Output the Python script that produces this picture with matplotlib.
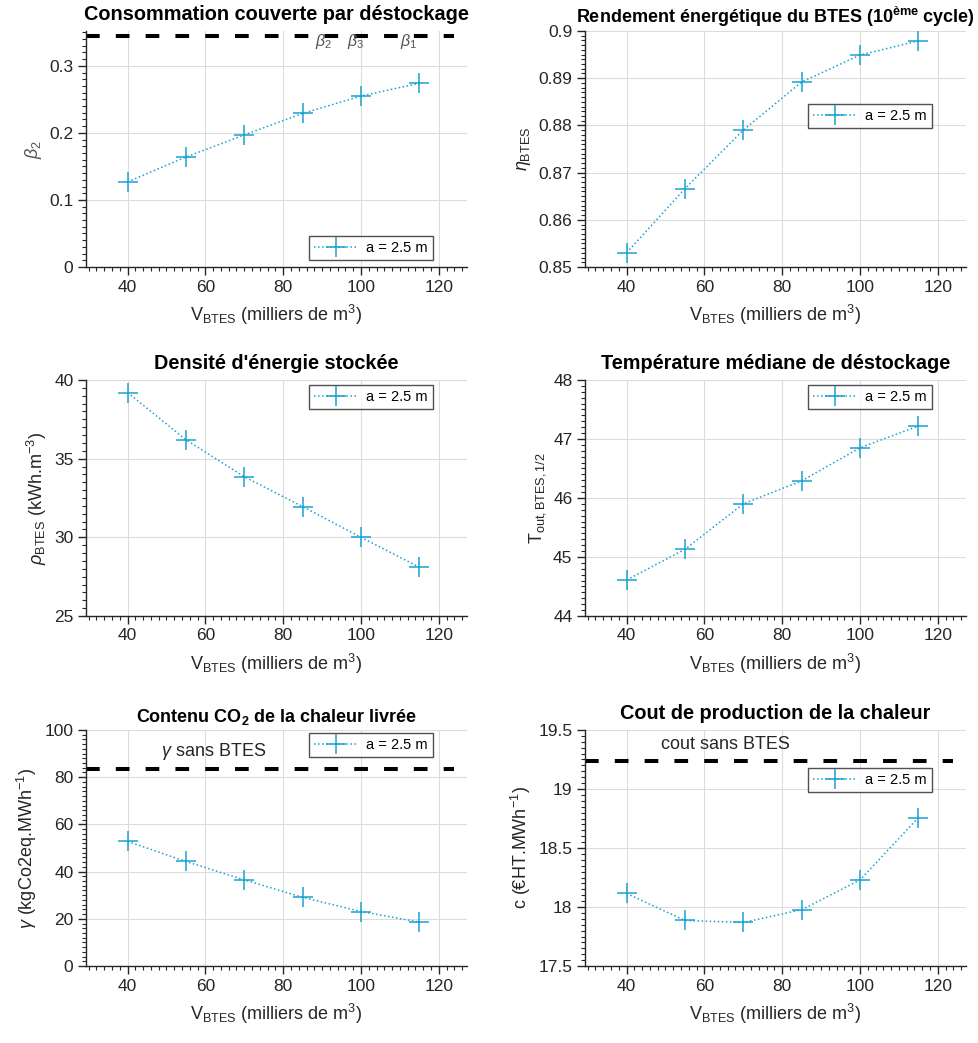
import matplotlib
matplotlib.use("Agg")
import matplotlib.pyplot as plt
from matplotlib.ticker import MultipleLocator, FuncFormatter

# Data
v_btes = [40, 55, 70, 85, 100, 115]
beta2 = [0.127, 0.164, 0.197, 0.229, 0.255, 0.274]
eta_btes = [0.8530, 0.8666, 0.8790, 0.8892, 0.8949, 0.8979]
rho_btes = [39.2, 36.2, 33.85, 31.95, 30.0, 28.1]
t_out = [44.61, 45.13, 45.90, 46.29, 46.85, 47.22]
gamma_co2 = [52.8, 44.3, 36.5, 29.1, 23.1, 18.6]
cout = [18.115, 17.886, 17.869, 17.977, 18.229, 18.757]

beta_ref = 0.345
gamma_sans_btes = 83.3
cout_sans_btes = 19.234
legend_label = "a = 2.5 m"

# Style close to MATLAB defaults
plt.rcParams['font.family'] = ['Liberation Sans', 'DejaVu Sans']
plt.rcParams['mathtext.fontset'] = 'custom'
plt.rcParams['mathtext.rm'] = 'Liberation Sans'
plt.rcParams['mathtext.it'] = 'Liberation Sans:italic'
plt.rcParams['mathtext.bf'] = 'Liberation Sans:bold'

line_color = '#1ba1d2'
axis_color = '#262626'
x_range = (29.3, 127.2)
ref_line_end = 124.0

fig = plt.figure(figsize=(9.79, 10.43), dpi=100)

col_left = [0.0878, 0.5975]
width = 0.389
rows_bottom = [0.744, 0.4094, 0.0738]
height = 0.2263


def style_axes(ax, ylim, ymajor, yminor):
    ax.set_xlim(*x_range)
    ax.set_ylim(*ylim)
    ax.xaxis.set_major_locator(MultipleLocator(20))
    ax.xaxis.set_minor_locator(MultipleLocator(2))
    ax.yaxis.set_major_locator(MultipleLocator(ymajor))
    ax.yaxis.set_minor_locator(MultipleLocator(yminor))
    ax.yaxis.set_major_formatter(FuncFormatter(lambda v, p: f"{round(v, 6):g}"))
    for side in ['top', 'right']:
        ax.spines[side].set_visible(False)
    for side in ['left', 'bottom']:
        ax.spines[side].set_color(axis_color)
        ax.spines[side].set_linewidth(1.0)
    ax.tick_params(which='major', direction='out', length=5.5, width=1.0,
                   colors=axis_color, labelsize=12.5)
    ax.tick_params(which='minor', direction='out', length=3, width=0.8,
                   colors=axis_color)
    ax.grid(True, which='major', color='#dcdcdc', linewidth=0.8)
    ax.set_axisbelow(True)
    ax.set_xlabel(r"V$_{\rm BTES}$ (milliers de m$^3$)", fontsize=13,
                  color=axis_color, labelpad=6)


def plot_series(ax, y):
    ax.plot(v_btes, y, linestyle=':', linewidth=1.1, color=line_color,
            marker='+', markersize=15, markeredgewidth=1.1, label=legend_label)


def add_legend(ax, loc, anchor):
    leg = ax.legend(loc=loc, bbox_to_anchor=anchor, fontsize=10.5,
                    frameon=True, fancybox=False, borderpad=0.35,
                    borderaxespad=0, handlelength=3.0, handletextpad=0.6)
    leg.get_frame().set_edgecolor(axis_color)
    leg.get_frame().set_linewidth(1.0)
    return leg


def add_dashed(ax, yval):
    ax.hlines(yval, x_range[0], ref_line_end, color='black',
              linestyle=(0, (3.4, 4)), linewidth=2.9)


title_kw = dict(fontsize=14.3, fontweight='bold', pad=8)

# 1 - Consommation couverte par déstockage
ax1 = fig.add_axes([col_left[0], rows_bottom[0], width, height])
plot_series(ax1, beta2)
add_dashed(ax1, beta_ref)
style_axes(ax1, (0, 0.352), 0.1, 0.01)
ax1.set_ylabel(r"$\it{\beta}_2$", fontsize=13, color='#555555')
ax1.set_title("Consommation couverte par déstockage", **title_kw)
for lab, xpos in [(r"$\it{\beta}_2$", 90.5), (r"$\it{\beta}_3$", 98.5),
                  (r"$\it{\beta}_1$", 112.3)]:
    ax1.text(xpos, 0.3505, lab, fontsize=11.5, color='#555555', ha='center',
             va='top', clip_on=False)
add_legend(ax1, 'lower right', (0.911, 0.03))

# 2 - Rendement énergétique
ax2 = fig.add_axes([col_left[1], rows_bottom[0], width, height])
plot_series(ax2, eta_btes)
style_axes(ax2, (0.85, 0.9), 0.01, 0.001)
ax2.set_ylabel(r"$\it{\eta}_{\rm BTES}$", fontsize=13, color=axis_color)
ax2.set_title(r"Rendement énergétique du BTES (10$^{\bf ème}$ cycle)",
              fontsize=13, fontweight='bold', pad=6)
add_legend(ax2, 'upper right', (0.911, 0.69))

# 3 - Densité d'énergie stockée
ax3 = fig.add_axes([col_left[0], rows_bottom[1], width, height])
plot_series(ax3, rho_btes)
style_axes(ax3, (25, 40), 5, 0.5)
ax3.set_ylabel(r"$\it{\rho}_{\rm BTES}$ (kWh.m$^{-3}$)", fontsize=13,
               color=axis_color)
ax3.set_title("Densité d'énergie stockée", **title_kw)
add_legend(ax3, 'upper right', (0.911, 0.979))

# 4 - Température médiane de déstockage
ax4 = fig.add_axes([col_left[1], rows_bottom[1], width, height])
plot_series(ax4, t_out)
style_axes(ax4, (44, 48), 1, 0.1)
ax4.set_ylabel(r"T$_{\rm out,BTES,1/2}$", fontsize=13, color=axis_color)
ax4.set_title("Température médiane de déstockage", **title_kw)
add_legend(ax4, 'upper right', (0.911, 0.979))

# 5 - Contenu CO2
ax5 = fig.add_axes([col_left[0], rows_bottom[2], width, height])
plot_series(ax5, gamma_co2)
add_dashed(ax5, gamma_sans_btes)
style_axes(ax5, (0, 100), 20, 2)
ax5.set_ylabel(r"$\it{\gamma}$ (kgCo2eq.MWh$^{-1}$)", fontsize=13,
               color=axis_color)
ax5.set_title(r"Contenu CO$_{\bf 2}$ de la chaleur livrée", fontsize=13,
              fontweight='bold', pad=6)
ax5.text(62, 91, r"$\it{\gamma}$ sans BTES", fontsize=13, ha='center',
         va='center', color=axis_color)
add_legend(ax5, 'upper right', (0.911, 0.987))

# 6 - Cout de production
ax6 = fig.add_axes([col_left[1], rows_bottom[2], width, height])
plot_series(ax6, cout)
add_dashed(ax6, cout_sans_btes)
style_axes(ax6, (17.5, 19.5), 0.5, 0.05)
ax6.set_ylabel(r"c (€HT.MWh$^{-1}$)", fontsize=13, color=axis_color)
ax6.set_title("Cout de production de la chaleur", **title_kw)
ax6.text(65.5, 19.38, "cout sans BTES", fontsize=13, ha='center',
         va='center', color=axis_color)
add_legend(ax6, 'upper right', (0.911, 0.838))

fig.savefig("out.png", dpi=100)
plt.close(fig)
